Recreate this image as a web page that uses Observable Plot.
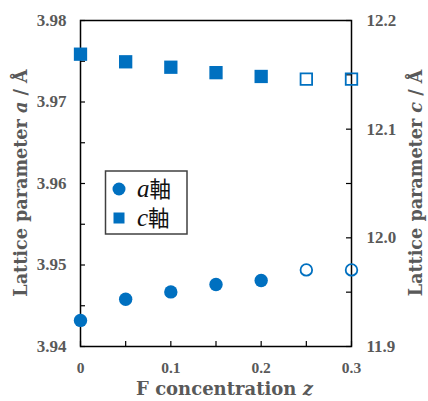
<!DOCTYPE html>
<html>
<head>
<meta charset="utf-8">
<script src="https://cdn.jsdelivr.net/npm/d3@7"></script>
<script src="https://cdn.jsdelivr.net/npm/@observablehq/plot@0.6"></script>
<style>
  html, body { margin: 0; padding: 0; background: #fff; }
  #chart { position: relative; width: 428px; height: 401px; }
</style>
</head>
<body>
<div id="chart"></div>
<script>
// ---- data ----
const zValues = [0, 0.05, 0.1, 0.15, 0.2, 0.25, 0.3];
const aValues = [3.9432, 3.9458, 3.9467, 3.9476, 3.9481, 3.9494, 3.9494];
const cValues = [12.169, 12.162, 12.157, 12.152, 12.1485, 12.146, 12.146];
const sampleType = ["solid", "solid", "solid", "solid", "solid", "open", "open"];

const xDomain = [0, 0.3];
const aDomain = [3.94, 3.98];
const cDomain = [11.9, 12.2];

const xLabelTicks = [0, 0.1, 0.2, 0.3];
const xAllTicks = [0, 0.05, 0.1, 0.15, 0.2, 0.25, 0.3];
const aLabelTicks = [3.94, 3.95, 3.96, 3.97, 3.98];
const aAllTicks = [3.94, 3.945, 3.95, 3.955, 3.96, 3.965, 3.97, 3.975, 3.98];
const cLabelTicks = [11.9, 12.0, 12.1, 12.2];
const cAllTicks = [11.9, 11.95, 12.0, 12.05, 12.1, 12.15, 12.2];

const xTitle = ["F concentration ", "z"];
const aTitle = ["Lattice parameter ", "a", " / Å"];
const cTitle = ["Lattice parameter ", "c", " / Å"];
const legendItems = [{sym: "circle", letter: "a", kanji: "軸"}, {sym: "square", letter: "c", kanji: "軸"}];

// ---- layout ----
const W = 428, H = 401;
const mL = 80, mR = 77, mT = 20, mB = 55;
const pw = W - mL - mR, ph = H - mT - mB;
const blue = "#0070C0";
const grey = "#595959";
const tickFont = "'Liberation Serif', 'Times New Roman', serif";

// map c onto the a-scale (secondary axis)
const c2a = c => aDomain[0] + (c - cDomain[0]) * (aDomain[1] - aDomain[0]) / (cDomain[1] - cDomain[0]);
const a2c = a => cDomain[0] + (a - aDomain[0]) * (cDomain[1] - cDomain[0]) / (aDomain[1] - aDomain[0]);

const rows = zValues.map((z, i) => ({z, a: aValues[i], c: c2a(cValues[i]), type: sampleType[i]}));
const solid = rows.filter(d => d.type === "solid");
const open = rows.filter(d => d.type === "open");

const tickLen = 5;

const chart = Plot.plot({
  width: W, height: H,
  marginLeft: mL, marginRight: mR, marginTop: mT, marginBottom: mB,
  x: {domain: xDomain, axis: null},
  y: {domain: aDomain, axis: null},
  marks: [
    Plot.frame({stroke: "#000", strokeWidth: 1.5}),
    // inward ticks
    Plot.tickY(aAllTicks, {y: d => d, stroke: "#000", strokeWidth: 1.2, insetRight: pw - tickLen}),
    Plot.tickY(cAllTicks.map(c2a), {y: d => d, stroke: "#000", strokeWidth: 1.2, insetLeft: pw - tickLen}),
    Plot.tickX(xAllTicks, {x: d => d, stroke: "#000", strokeWidth: 1.2, insetTop: ph - tickLen}),
    // tick labels
    Plot.axisY({anchor: "left", ticks: aLabelTicks, tickSize: 0, tickPadding: 14, label: null,
      tickFormat: d => d.toFixed(2), fontSize: 17, fontWeight: "bold", fontFamily: tickFont, fill: grey}),
    Plot.axisY({anchor: "right", ticks: cLabelTicks.map(c2a), tickSize: 0, tickPadding: 15, label: null,
      tickFormat: d => a2c(d).toFixed(1), fontSize: 17, fontWeight: "bold", fontFamily: tickFont, fill: grey}),
    Plot.axisX({anchor: "bottom", ticks: xLabelTicks, tickSize: 0, tickPadding: 15, label: null,
      tickFormat: d => d === 0 ? "0" : d.toFixed(1), fontSize: 15.5, fontWeight: "bold", fontFamily: tickFont, fill: grey}),
    // data
    Plot.dot(solid, {x: "z", y: "a", symbol: "circle", r: 6.7, fill: blue}),
    Plot.dot(open, {x: "z", y: "a", symbol: "circle", r: 5.8, fill: "none", stroke: blue, strokeWidth: 1.8}),
    Plot.dot(solid, {x: "z", y: "c", symbol: "square", r: 7.5, fill: blue}),
    Plot.dot(open, {x: "z", y: "c", symbol: "square", r: 6.5, fill: "none", stroke: blue, strokeWidth: 1.8})
  ]
});

const svg = d3.select(chart);
const titleFont = "'DejaVu Serif', serif";

function richText(g, parts, italicIdx) {
  parts.forEach((p, i) => {
    g.append("tspan").text(p).attr("font-style", italicIdx.includes(i) ? "italic" : "normal");
  });
}

// axis titles
const xt = svg.append("text")
  .attr("x", mL + pw / 2 + 9).attr("y", 395)
  .attr("text-anchor", "middle").attr("font-family", titleFont).attr("font-weight", "bold")
  .attr("font-size", 18).attr("fill", grey);
richText(xt, xTitle, [1]);

const lt = svg.append("text")
  .attr("transform", `translate(27,${mT + ph / 2}) rotate(-90)`)
  .attr("text-anchor", "middle").attr("font-family", titleFont).attr("font-weight", "bold")
  .attr("font-size", 17.6).attr("fill", grey);
richText(lt, aTitle, [1]);

const rt = svg.append("text")
  .attr("transform", `translate(421.5,${mT + ph / 2}) rotate(-90)`)
  .attr("text-anchor", "middle").attr("font-family", titleFont).attr("font-weight", "bold")
  .attr("font-size", 17.6).attr("fill", grey);
richText(rt, cTitle, [1]);

// legend
const lg = svg.append("g");
lg.append("rect").attr("x", 105.5).attr("y", 171).attr("width", 81.5).attr("height", 63)
  .attr("fill", "#fff").attr("stroke", "#404040").attr("stroke-width", 1.5);
legendItems.forEach((it, i) => {
  const cy = 189 + i * 29;
  if (it.sym === "circle") {
    lg.append("circle").attr("cx", 119).attr("cy", cy).attr("r", 6.5).attr("fill", blue);
  } else {
    lg.append("rect").attr("x", 113.5).attr("y", cy - 5.5).attr("width", 11).attr("height", 11).attr("fill", blue);
  }
  const t = lg.append("text").attr("x", 137).attr("y", cy + 8).attr("fill", "#111")
    .attr("text-anchor", "start");
  t.append("tspan").text(it.letter).attr("font-family", tickFont).attr("font-style", "italic").attr("font-size", 25);
  t.append("tspan").text(it.kanji).attr("font-family", "'Noto Sans CJK JP', sans-serif").attr("font-size", 21.5);
});

document.getElementById("chart").appendChild(chart);
</script>
</body>
</html>
